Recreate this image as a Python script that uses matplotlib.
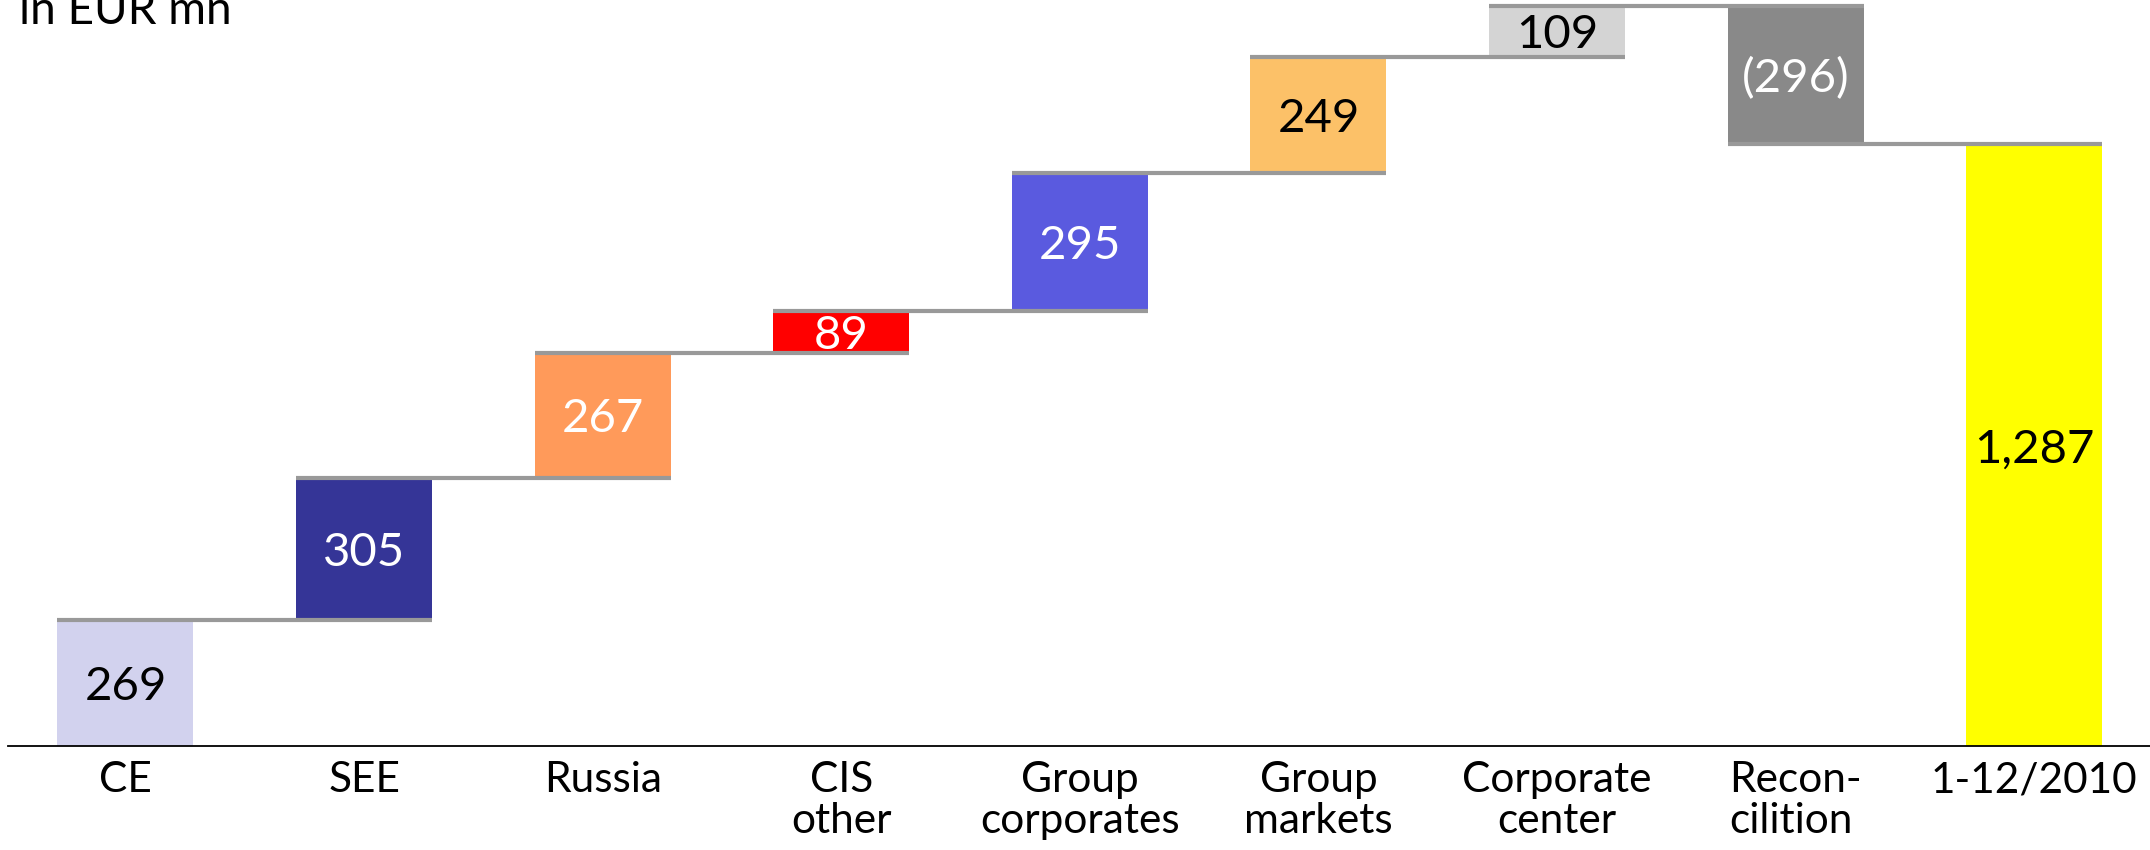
import matplotlib
matplotlib.use("Agg")
import matplotlib.pyplot as plt

categories = ["CE", "SEE", "Russia", "CIS\nother", "Group\ncorporates",
              "Group\nmarkets", "Corporate\ncenter", "Recon-\ncilition", "1-12/2010"]
values = [269, 305, 267, 89, 295, 249, 109, -296, 1287]
value_labels = ["269", "305", "267", "89", "295", "249", "109", "(296)", "1,287"]
is_total = [False, False, False, False, False, False, False, False, True]
bar_colors = ["#D2D2EE", "#353597", "#FF9A5A", "#FF0000", "#5A5ADF",
              "#FCC168", "#D4D4D4", "#898989", "#FFFF00"]
text_colors = ["black", "white", "white", "white", "white",
               "black", "black", "white", "black"]

plt.rcParams['font.family'] = ['Lato', 'DejaVu Sans']

W, H = 2150, 850
fig = plt.figure(figsize=(W / 100, H / 100), dpi=100)
ax = fig.add_axes([7.6 / W, 104 / H, 1 - 7.6 / W, 746 / H])

width = 0.57
running = 0.0
ends = []
for i, (v, tot) in enumerate(zip(values, is_total)):
    if tot:
        bottom, height = 0, v
        running = v
    else:
        bottom = running if v >= 0 else running + v
        height = abs(v)
        running += v
    ends.append(running)
    ax.bar(i, height, bottom=bottom, width=width, color=bar_colors[i],
           edgecolor='none', zorder=2)
    ax.annotate(value_labels[i], (i, bottom + height / 2), xytext=(0, -3),
                textcoords='offset points', ha='center', va='center',
                fontsize=34, color=text_colors[i], zorder=4)

for i in range(len(values) - 1):
    ax.hlines(ends[i], i - width / 2, i + 1 + width / 2, color='#999999',
              lw=3, zorder=3, clip_on=False)

ax.set_xlim(-0.494, 8.485)
ax.set_ylim(0, 1595)
ax.set_xticks(range(len(categories)))
ax.set_xticklabels(categories, fontsize=30.5, linespacing=1.1)
for lbl in ax.get_xticklabels():
    lbl.set_multialignment('left' if lbl.get_text().startswith('Recon') else 'center')
ax.tick_params(axis='x', length=0, pad=11)
ax.set_yticks([])
for s in ['top', 'left', 'right']:
    ax.spines[s].set_visible(False)
ax.spines['bottom'].set_color('black')
ax.spines['bottom'].set_linewidth(1.3)

fig.text(19 / W, 1 - 24 / H, "in EUR mn", ha='left', va='baseline', fontsize=33)

fig.savefig("out.png", dpi=100)
